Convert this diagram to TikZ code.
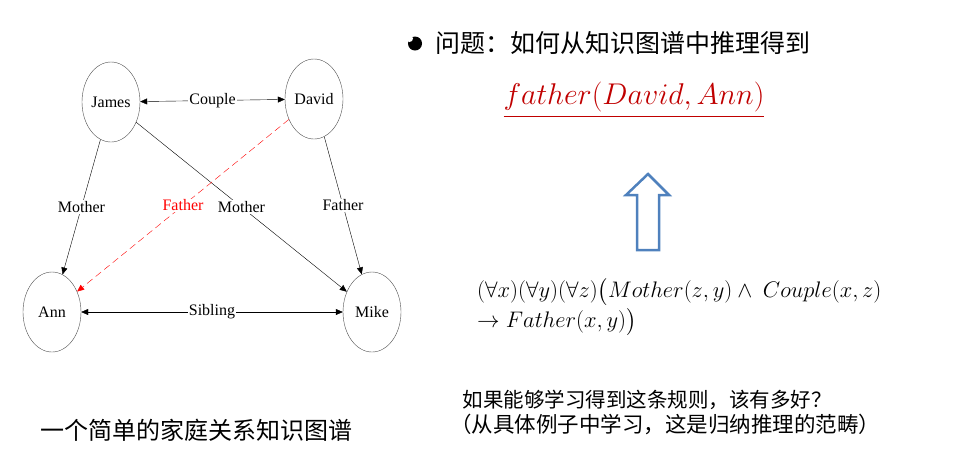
\RequirePackage{fix-cm}
\documentclass[tikz,border=0pt]{standalone}
\usepackage{amsmath,amssymb}
\usepackage{fontspec}
\setmainfont{Liberation Serif}
\newfontfamily\cjk{Noto Sans CJK SC}
\usepackage{tikz}
\usetikzlibrary{arrows.meta,shapes.geometric}
\definecolor{darkred}{HTML}{C00000}
\definecolor{arrowblue}{HTML}{4F81BD}

\begin{document}
\begin{tikzpicture}[x=1pt, y=-1pt, >={Triangle[length=7pt,width=6pt]},
  every node/.style={font=\fontsize{16}{18}\selectfont},
  person/.style={ellipse, draw=black!70, thin, minimum width=58pt, minimum height=80pt, inner sep=0pt},
  rel/.style={fill=white, inner sep=1pt},
  logic/.style={anchor=north west, inner sep=0pt, align=left, font=\fontsize{22.5}{30}\selectfont}]
  \useasboundingbox (0,0) rectangle (957,451);
  % family graph
  \node[person] (james) at (111,102) {James};
  \node[person] (david) at (314,99)  {David};
  \node[person] (ann)   at (52,312)  {Ann};
  \node[person] (mike)  at (372,312) {Mike};
  \draw[<->] (james) -- node[rel]{Couple} (david);
  \draw[->] (james) -- node[rel]{Mother} (ann);
  \draw[->] (james) -- node[rel]{Mother} (mike);
  \draw[->] (david) -- node[rel]{Father} (mike);
  \draw[->, red, dash pattern=on 7pt off 4pt] (david) -- node[rel]{Father} (ann);
  \draw[<->] (ann) -- node[rel]{Sibling} (mike);
  \node[font=\cjk\fontsize{24}{26}\selectfont] (caption) at (196,430) {一个简单的家庭关系知识图谱};
  % question and rule
  \fill (415,43.5) circle (7);
  \fill[white] (409.5,38.5) circle (3.5);
  \node[anchor=west, font=\cjk\fontsize{25}{28}\selectfont] (question) at (432,43) {问题：如何从知识图谱中推理得到};
  \node[text=darkred, font=\fontsize{30}{34}\selectfont] (goal) at (634,100) {$\underline{father(David,Ann)}$};
  \draw[arrowblue, line width=2.5pt, line join=miter]
    (648,174) -- (669,195) -- (659,195) -- (659,250) -- (637,250) -- (637,195) -- (626,195) -- cycle;
  \node[logic] (rule) at (477,278)
    {$(\forall x)(\forall y)(\forall z)\big(Mother(z,y)\wedge\ Couple(x,z)$\\
     $\to Father(x,y)\big)$};
  \node[font=\cjk\fontsize{20.5}{24}\selectfont] (hope) at (647,400) {如果能够学习得到这条规则，该有多好？};
  \node[font=\cjk\fontsize{21.5}{24}\selectfont] (note) at (665,424) {（从具体例子中学习，这是归纳推理的范畴）};
\end{tikzpicture}
\end{document}
